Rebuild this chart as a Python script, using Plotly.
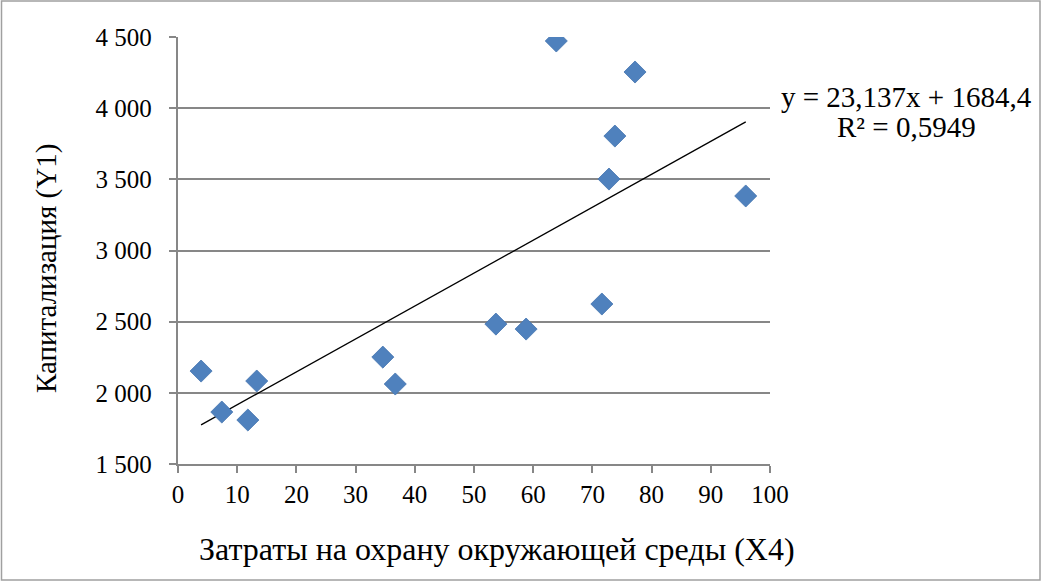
import plotly.graph_objects as go

# Data
x_costs = [3.9, 7.4, 11.8, 13.3, 34.6, 36.7, 53.7, 58.8, 63.9, 71.6, 72.8, 73.8, 77.2, 95.9]
y_cap = [2153, 1865, 1809, 2083, 2251, 2062, 2483, 2448, 4472, 2624, 3502, 3804, 4254, 3383]

slope = 23.137
intercept = 1684.4
r2_text = "0,5949"

x_title = "Затраты на охрану окружающей среды (X4)"
y_title = "Капитализация (Y1)"

FONT = "Liberation Serif"
GRID = "#878787"

trend_x = [min(x_costs), max(x_costs)]
trend_y = [slope * v + intercept for v in trend_x]

L, T, PW, PH = 178, 37, 592, 427


def px(xp):
    return (xp - L) / PW


def py(yp):
    return (T + PH - yp) / PH


fig = go.Figure()
fig.add_trace(go.Scatter(
    x=trend_x, y=trend_y, mode="lines",
    line=dict(color="black", width=1.3), hoverinfo="skip", showlegend=False))
fig.add_trace(go.Scatter(
    x=x_costs, y=y_cap, mode="markers",
    marker=dict(symbol="diamond", size=17, color="#4F81BD",
                line=dict(color="#4575b0", width=0.8)),
    showlegend=False))

eq_text = f"y = {str(slope).replace('.', ',')}x + {str(intercept).replace('.', ',')}"

fig.update_layout(
    width=1042, height=582,
    margin=dict(l=L, r=1042 - L - PW, t=T, b=582 - T - PH),
    paper_bgcolor="white", plot_bgcolor="white",
    separators=", ",
    font=dict(family=FONT, size=25, color="black"),
    xaxis=dict(range=[0, 100], dtick=10, tick0=0, showgrid=False, zeroline=False,
               showline=True, linecolor=GRID, linewidth=1.5,
               ticks="outside", ticklen=7, tickcolor=GRID, tickwidth=1.5,
               tickfont=dict(size=25, family=FONT)),
    yaxis=dict(range=[1500, 4500], dtick=500, tick0=1500, tickformat=",",
               ticksuffix="\u2002",
               showgrid=True, gridcolor=GRID, gridwidth=1.5, zeroline=False,
               showline=True, linecolor=GRID, linewidth=1.5,
               ticks="outside", ticklen=7, tickcolor=GRID, tickwidth=1.5,
               tickfont=dict(size=25, family=FONT)),
    shapes=[dict(type="rect", xref="paper", yref="paper",
                 x0=px(1.5), x1=px(1040), y0=py(580), y1=py(1),
                 line=dict(color="#a0a0a0", width=1.5), layer="below")],
    annotations=[
        dict(xref="paper", yref="paper", x=px(497), y=py(549), text=x_title,
             showarrow=False, xanchor="center", yanchor="middle",
             font=dict(size=32, family=FONT, color="black")),
        dict(xref="paper", yref="paper", x=px(46), y=py(269), text=y_title,
             textangle=-90, showarrow=False, xanchor="center", yanchor="middle",
             font=dict(size=29, family=FONT, color="black")),
        dict(xref="paper", yref="paper", x=px(906), y=py(97), text=eq_text,
             showarrow=False, xanchor="center", yanchor="middle",
             font=dict(size=29, family=FONT, color="black")),
        dict(xref="paper", yref="paper", x=px(906), y=py(127), text=f"R² = {r2_text}",
             showarrow=False, xanchor="center", yanchor="middle",
             font=dict(size=29, family=FONT, color="black")),
    ],
)

fig.write_html("out.html", config={"displayModeBar": False},
               post_script="document.body.style.margin='0';")
